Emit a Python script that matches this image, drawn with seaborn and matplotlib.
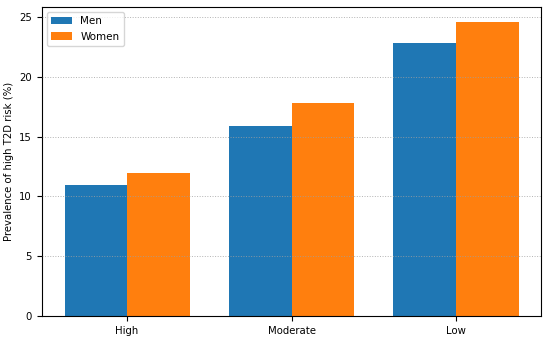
import pandas as pd
import matplotlib
matplotlib.use('Agg')
import matplotlib.pyplot as plt
import seaborn as sns

# Values
categories = ['High', 'Moderate', 'Low']
men = [11.0, 15.9, 22.8]
women = [12.0, 17.8, 24.6]

df = pd.DataFrame({
    'Activity': categories * 2,
    'Group': ['Men'] * 3 + ['Women'] * 3,
    'Prevalence': men + women,
})

plt.rcParams['font.family'] = ['DejaVu Sans']
plt.rcParams['font.size'] = 7.3

fig = plt.figure(figsize=(5.5, 3.37), dpi=100)
ax = fig.add_axes([0.076, 0.062, 0.908, 0.917])

sns.barplot(data=df, x='Activity', y='Prevalence', hue='Group',
            order=categories, palette=['#1f77b4', '#ff7f0e'],
            width=0.76, saturation=1, errorbar=None, ax=ax)

ax.set_xlim(-0.518, 2.518)
ax.set_ylim(0, max(women) * 1.05)
ax.set_xlabel('')
ax.set_ylabel('Prevalence of high T2D risk (%)')
ax.grid(axis='y', linestyle=':', color='#a0a0a0', linewidth=0.7, alpha=0.8)
ax.set_axisbelow(False)
for bar in ax.patches:
    bar.set_zorder(1)
ax.legend(loc='upper left', title=None, fontsize=7.5)

fig.savefig('out.png', dpi=100)
plt.close()
